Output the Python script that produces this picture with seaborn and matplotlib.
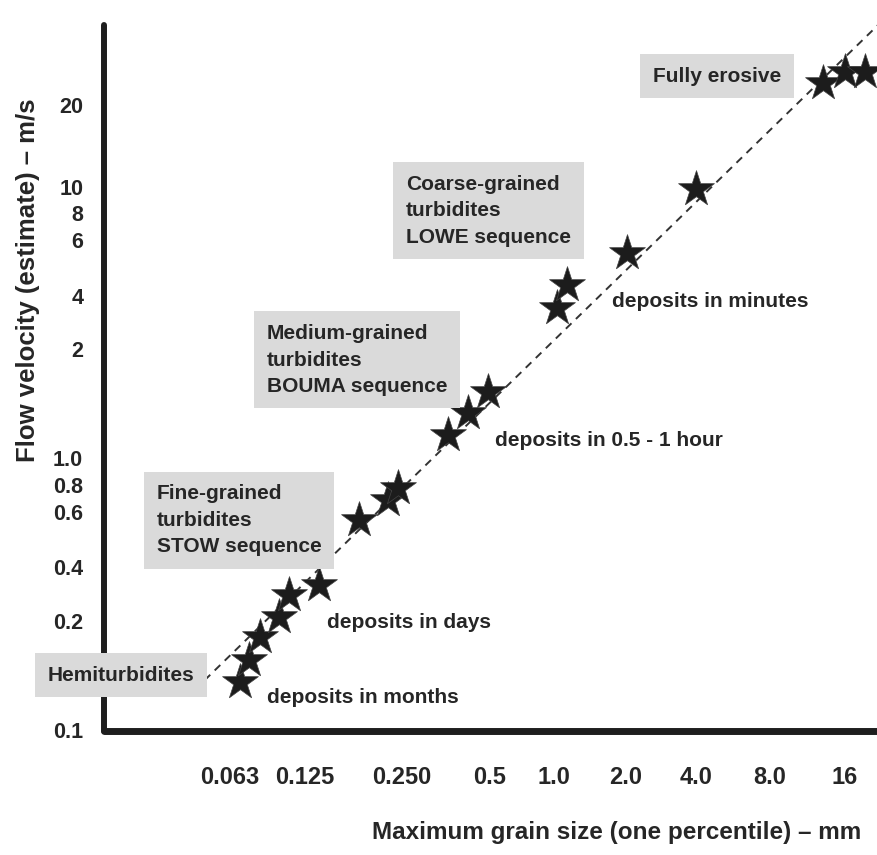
import numpy as np
import matplotlib
matplotlib.use('Agg')
import matplotlib.pyplot as plt
import seaborn as sns

# 数据：最大粒径 (mm) 与流速估计 (m/s)
grain_mm = [0.069, 0.075, 0.083, 0.0985, 0.108, 0.138, 0.184, 0.226, 0.243,
            0.359, 0.420, 0.492, 1.03, 1.13, 2.02, 4.0, 13.1, 16.0, 19.2]
velocity = [0.136, 0.156, 0.181, 0.211, 0.279, 0.317, 0.566, 0.682, 0.775,
            1.157, 1.33, 1.52, 3.42, 4.33, 5.46, 9.83, 24.1, 26.4, 26.4]

# 趋势线两端
trend_x = [0.0456, 21.7]
trend_y = [0.129, 39.3]

x_ticks = [0.063, 0.125, 0.25, 0.5, 1.0, 2.0, 4.0, 8.0, 16.0]
x_labels = ['0.063', '0.125', '0.250', '0.5', '1.0', '2.0', '4.0', '8.0', '16']
y_ticks = [0.1, 0.2, 0.4, 0.6, 0.8, 1.0, 2, 4, 6, 8, 10, 20]
y_labels = ['0.1', '0.2', '0.4', '0.6', '0.8', '1.0', '2', '4', '6', '8', '10', '20']

# 原图刻度间距不均匀：按像素位置做分段对数刻度
x_tick_px = [230, 305, 402, 490, 554, 626, 696, 770, 845]
y_tick_px = [730, 621, 567, 512, 485, 458, 349, 296, 240, 213, 187, 105]

W, H = 878, 855


def piecewise_log(vals, px):
    lv = np.log10(vals)
    px = np.asarray(px, float)
    s0 = (px[1] - px[0]) / (lv[1] - lv[0])
    s1 = (px[-1] - px[-2]) / (lv[-1] - lv[-2])

    def fwd(v):
        v = np.log10(np.maximum(np.asarray(v, float), 1e-9))
        out = np.interp(v, lv, px)
        out = np.where(v < lv[0], px[0] + (v - lv[0]) * s0, out)
        out = np.where(v > lv[-1], px[-1] + (v - lv[-1]) * s1, out)
        return out

    def inv(p):
        p = np.asarray(p, float)
        out = np.interp(p, px, lv)
        out = np.where(p < px[0], lv[0] + (p - px[0]) / s0, out)
        out = np.where(p > px[-1], lv[-1] + (p - px[-1]) / s1, out)
        return 10 ** out

    return fwd, inv


sns.set_style('white')
plt.rcParams['font.family'] = ['Liberation Sans', 'DejaVu Sans']
plt.rcParams['font.weight'] = 'bold'
ink = '#262626'

fig = plt.figure(figsize=(W / 100, H / 100), dpi=100)
ax = fig.add_axes([104 / W, (H - 731) / H, (W - 104) / W, (731 - 25) / H])

fx, ix = piecewise_log(x_ticks, x_tick_px)
fy, iy = piecewise_log(y_ticks, [H - p for p in y_tick_px])
ax.set_xscale('function', functions=(fx, ix))
ax.set_yscale('function', functions=(fy, iy))
ax.set_xlim(float(ix(104)), float(ix(W)))
ax.set_ylim(float(iy(H - 731)), float(iy(H - 25)))

ax.plot(trend_x, trend_y, color='#333333', lw=1.4, ls=(0, (4, 3.2)),
        zorder=2, clip_on=False)
sns.scatterplot(x=grain_mm, y=velocity, marker='*', s=740, color='#1c1c1c',
                edgecolor='#444444', linewidth=0.5, zorder=3, ax=ax,
                clip_on=False)

ax.set_xticks(x_ticks)
ax.set_xticklabels(x_labels)
ax.set_yticks(y_ticks)
ax.set_yticklabels(y_labels)
ax.minorticks_off()
ax.tick_params(axis='both', length=0, labelcolor=ink)
ax.tick_params(axis='x', pad=25, labelsize=17)
ax.tick_params(axis='y', pad=15, labelsize=15.5)

for side in ['top', 'right']:
    ax.spines[side].set_visible(False)
ax.spines['left'].set_linewidth(4.3)
ax.spines['bottom'].set_linewidth(5.0)
for side in ['left', 'bottom']:
    ax.spines[side].set_color('#1e1e1e')
    ax.spines[side].set_capstyle('round')
ax.patch.set_alpha(0)


def px(x, y):
    return x / W, 1 - y / H


box = dict(boxstyle='square,pad=0.6', facecolor='#dadada', edgecolor='none')
fig.text(*px(717, 76), 'Fully erosive', ha='center', va='center',
         fontsize=15, color=ink, bbox=box)
fig.text(*px(406, 211), 'Coarse-grained\nturbidites\nLOWE sequence',
         ha='left', va='center', fontsize=15, color=ink, linespacing=1.5, bbox=box)
fig.text(*px(267, 360), 'Medium-grained\nturbidites\nBOUMA sequence',
         ha='left', va='center', fontsize=15, color=ink, linespacing=1.5, bbox=box)
fig.text(*px(157, 520), 'Fine-grained\nturbidites\nSTOW sequence',
         ha='left', va='center', fontsize=15, color=ink, linespacing=1.5, bbox=box)
fig.text(*px(48, 675), 'Hemiturbidites', ha='left', va='center',
         fontsize=15, color=ink, bbox=box)

fig.text(*px(612, 301), 'deposits in minutes', ha='left', va='center',
         fontsize=15, color=ink)
fig.text(*px(495, 440), 'deposits in 0.5 - 1 hour', ha='left', va='center',
         fontsize=15, color=ink)
fig.text(*px(327, 622), 'deposits in days', ha='left', va='center',
         fontsize=15, color=ink)
fig.text(*px(267, 697), 'deposits in months', ha='left', va='center',
         fontsize=15, color=ink)

fig.text(*px(617, 832), 'Maximum grain size (one percentile) \u2013 mm',
         ha='center', va='center', fontsize=17.5, color=ink)
fig.text(*px(28, 280), 'Flow velocity (estimate) \u2013 m/s', ha='center',
         va='center', rotation=90, fontsize=18.5, color=ink)

fig.savefig('out.png', dpi=100)
